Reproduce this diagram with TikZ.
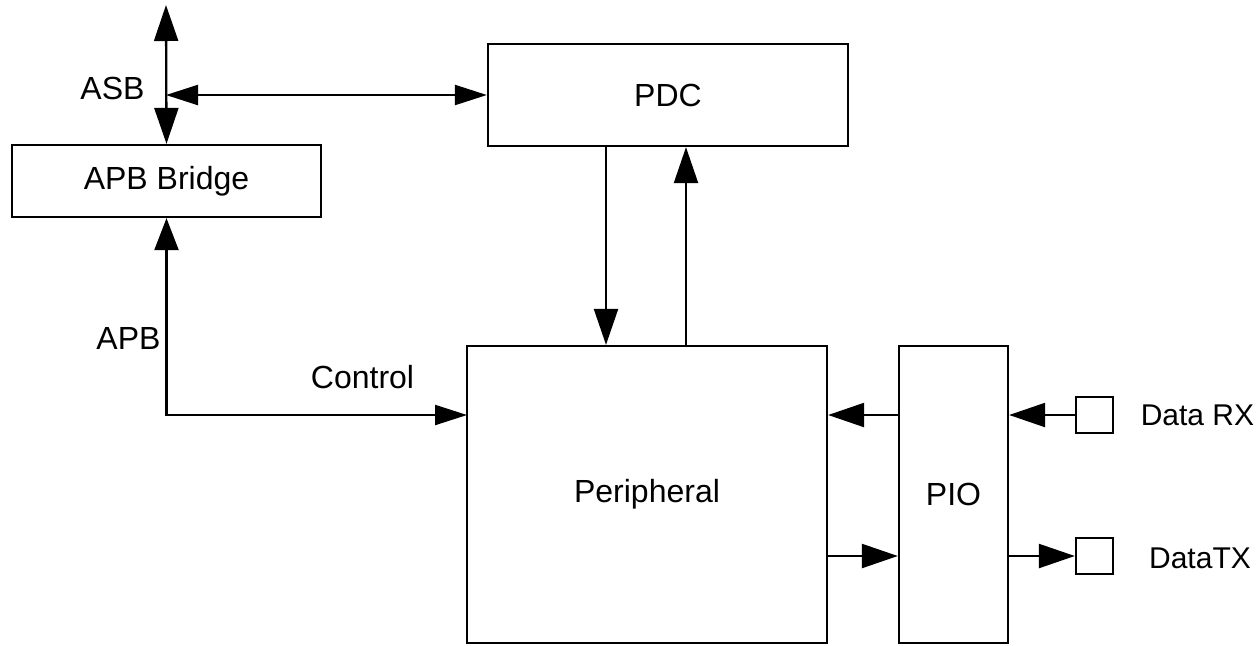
\documentclass[tikz,border=0pt]{standalone}
\usepackage{fontspec}
\setmainfont{Liberation Sans}
\usetikzlibrary{arrows.meta}
\begin{document}
\begin{tikzpicture}[x=0.5pt,y=-0.5pt,
  every node/.style={font=\fontsize{16pt}{19pt}\selectfont},
  blk/.style={draw,line width=1.15pt,inner sep=0pt,rectangle},
  lbl/.style={inner sep=0pt},
  sidelbl/.style={inner sep=0pt,font=\fontsize{15pt}{18pt}\selectfont},
  conn/.style={line width=1.15pt},
  bigtip/.style={-{Triangle[length=18pt,width=12pt]}},
  bigboth/.style={{Triangle[length=18pt,width=12pt]}-{Triangle[length=18pt,width=12pt]}},
  smallboth/.style={{Triangle[length=16pt,width=10pt]}-{Triangle[length=16pt,width=10pt]}},
  apbboth/.style={{Triangle[length=16pt,width=12pt]}-{Triangle[length=16pt,width=10pt]}}
]
\useasboundingbox (0,0) rectangle (1260,645);
% blocks
\node[blk,minimum width=180pt,minimum height=51pt] (pdc) at (668,95) {PDC};
\node[blk,minimum width=154.5pt,minimum height=36pt] (apb) at (166.5,181) {APB Bridge};
\node[blk,minimum width=180pt,minimum height=148.5pt] (per) at (647,494.5) {Peripheral};
\node[blk,minimum width=54.5pt,minimum height=148.5pt] (pio) at (953.5,494.5) {PIO};
\node[blk,minimum width=18.5pt,minimum height=18pt] (rx) at (1094.5,415) {};
\node[blk,minimum width=18.5pt,minimum height=18pt] (tx) at (1094.5,556) {};
% labels
\node[lbl] (lasb) at (112.5,88) {ASB};
\node[lbl] (lapb) at (128.5,338) {APB};
\node[lbl] (lctl) at (362.5,377) {Control};
\node[sidelbl] (lrx) at (1197.5,415) {Data RX};
\node[sidelbl] (ltx) at (1200,558) {DataTX};
% helper coordinates
\coordinate (asbtop) at (166,5);
\coordinate (asbj) at (166,95);
\coordinate (ctl) at (467,415);
\coordinate (xd) at (606,0);
\coordinate (xu) at (686,0);
\coordinate (yrx) at (0,415);
% connectors
\draw[conn,bigboth] (asbtop) -- (apb.north);
\draw[conn,smallboth] (asbj) -- (pdc.west);
\draw[conn,apbboth] (apb.south) |- (ctl);
\draw[conn,bigtip] (pdc.south -| xd) -- (per.north -| xd);
\draw[conn,bigtip] (per.north -| xu) -- (pdc.south -| xu);
\draw[conn,bigtip] (pio.west |- yrx) -- (per.east |- yrx);
\draw[conn,bigtip] (rx.west) -- (pio.east |- rx.west);
\draw[conn,bigtip] (per.east |- tx.west) -- (pio.west |- tx.west);
\draw[conn,bigtip] (pio.east |- tx.west) -- (tx.west);
\end{tikzpicture}
\end{document}
